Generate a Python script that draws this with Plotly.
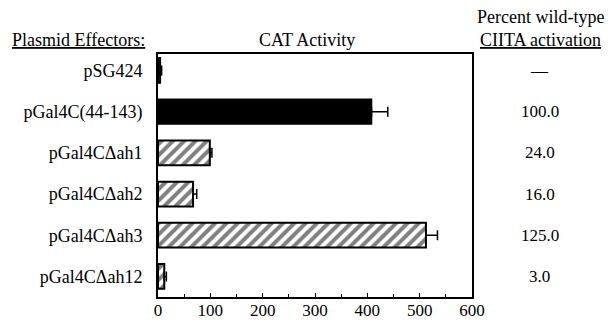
import plotly.graph_objects as go

categories = ["pSG424", "pGal4C(44-143)", "pGal4CΔah1", "pGal4CΔah2", "pGal4CΔah3", "pGal4CΔah12"]
cat_activity = [4, 408, 99, 67, 512, 12]
cat_error = [3, 31, 4, 7, 22, 4]
percent_wt = ["—", "100.0", "24.0", "16.0", "125.0", "3.0"]
x_ticks = [0, 100, 200, 300, 400, 500, 600]

FONT = "Liberation Serif"
FS = 18
pos = list(range(len(categories)))

fig = go.Figure()
solid = [i == 1 for i in pos]
fig.add_trace(go.Bar(
    y=[p for p, s in zip(pos, solid) if s],
    x=[v for v, s in zip(cat_activity, solid) if s],
    orientation="h",
    width=0.6,
    marker=dict(color="black", line=dict(color="black", width=1.5)),
    error_x=dict(type="data", symmetric=False,
                 array=[e for e, s in zip(cat_error, solid) if s],
                 arrayminus=[0] * sum(solid),
                 color="black", thickness=1.5, width=5),
    showlegend=False,
))
fig.add_trace(go.Bar(
    y=[p for p, s in zip(pos, solid) if not s],
    x=[v for v, s in zip(cat_activity, solid) if not s],
    orientation="h",
    width=0.6,
    marker=dict(color="white", line=dict(color="black", width=2),
                pattern=dict(shape="/", fgcolor="black", bgcolor="white",
                             size=8, solidity=0.5)),
    error_x=dict(type="data", symmetric=False,
                 array=[e for e, s in zip(cat_error, solid) if not s],
                 arrayminus=[0] * (len(pos) - sum(solid)),
                 color="black", thickness=1.5, width=5),
    showlegend=False,
))

for p, t in zip(pos, percent_wt):
    fig.add_annotation(x=1.215, xref="paper", y=p, yref="y", text=t,
                       showarrow=False, xanchor="center",
                       font=dict(family=FONT, size=17, color="black"))

hdr = [
    ("<u>Plasmid Effectors:</u>", -0.471, 1.058, "left"),
    ("CAT Activity", 0.475, 1.058, "center"),
    ("Percent wild-type", 1.217, 1.152, "center"),
    ("<u>CIITA activation</u>", 1.217, 1.058, "center"),
]
for t, x, y, anc in hdr:
    fig.add_annotation(x=x, xref="paper", y=y, yref="paper", text=t,
                       showarrow=False, xanchor=anc, yanchor="middle",
                       font=dict(family=FONT, size=FS, color="black"))

fig.update_layout(
    width=613, height=321,
    margin=dict(l=158, r=141, t=54, b=24, autoexpand=False),
    paper_bgcolor="white", plot_bgcolor="white",
    font=dict(family=FONT, size=FS, color="black"),
    xaxis=dict(range=[0, 600], tickvals=x_ticks, ticks="inside", ticklen=4,
               tickwidth=1, tickcolor="black", automargin=False,
               ticklabelstandoff=-3,
               minor=dict(dtick=50, ticks="inside", ticklen=3, tickcolor="black"),
               showline=True, linecolor="black", linewidth=2, mirror=True,
               showgrid=False, zeroline=False,
               tickfont=dict(family=FONT, size=17, color="black")),
    yaxis=dict(range=[5.5, -0.4], tickvals=pos, ticktext=categories,
               ticks="", ticklabelstandoff=10, automargin=False,
               showline=True, linecolor="black", linewidth=2, mirror=True,
               showgrid=False, zeroline=False,
               tickfont=dict(family=FONT, size=FS, color="black")),
)

fig.write_html("out.html", config={"displayModeBar": False},
               post_script="document.body.style.margin='0';")
